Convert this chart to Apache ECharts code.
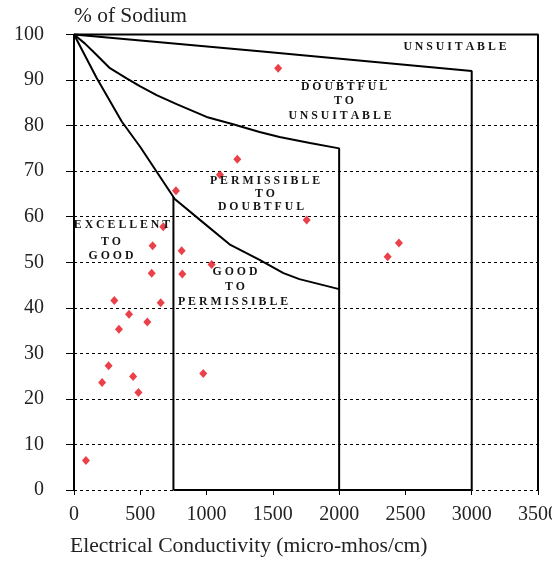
<!DOCTYPE html>
<html><head><meta charset="utf-8">
<script src="https://cdn.jsdelivr.net/npm/echarts@6/dist/echarts.min.js"></script>
<style>html,body{margin:0;padding:0;background:#fff;overflow:hidden}#c{width:552px;height:563px}</style>
</head><body><div id="c"></div>
<script>
// Sample points: [EC (micro-mhos/cm), % Na]
const samples = [[90,6.5],[212,23.6],[261,27.3],[304,41.6],[339,35.3],[415,38.6],[446,24.9],[486,21.4],
  [553,36.9],[586,47.6],[593,53.6],[654,41.1],[673,57.8],[769,65.7],[812,52.5],[817,47.4],
  [975,25.6],[1038,49.5],[1101,69.2],[1232,72.6],[1540,92.6],[1755,59.3],[2366,51.2],[2451,54.2]];
// Class boundaries
const boxLine = [[0,0],[0,100],[3500,100],[3500,0]];
const unsuitableLine = [[0,100],[1400,96.3],[3000,92],[3000,0]];
const doubtfulLine = [[0,100],[83,98],[146,96.2],[271,92.6],[400,90.3],[500,88.6],[623,86.7],[774,84.7],
  [1000,81.9],[1200,80.3],[1400,78.6],[1550,77.5],[1780,76.2],[2000,75],[2000,0]];
const permissibleLine = [[0,100],[170,90.5],[360,80.9],[500,75.3],[760,63.9],[950,59.3],
  [1180,53.8],[1400,50.5],[1580,47.6],[1700,46.3],[2000,44.1]];
const excellentLine = [[750,0],[750,64.3]];
const bottomLine = [[750,0],[3000,0]];
const xTicks = {min:0, max:3500, interval:500};
const yTicks = {min:0, max:100, interval:10};

const chart = echarts.init(document.getElementById('c'));
const serif = '"Liberation Serif","Times New Roman",serif';
function boundary(d){
  return {type:'line', data:d, symbol:'none', clip:false, silent:true,
    lineStyle:{color:'#000', width:2}, z:3};
}
function sp(s){ return s.split('').join(' '); }
function zoneText(x,y,t){
  return {type:'text', x:x, y:y, style:{text:sp(t), font:'bold 11.8px '+serif, fill:'#151515',
    textAlign:'center', textVerticalAlign:'middle'}, z:10};
}
chart.setOption({
  animation:false,
  grid:{left:74, right:14, top:34.5, bottom:73, containLabel:false, outerBoundsMode:'none'},
  xAxis:{type:'value', min:xTicks.min, max:xTicks.max, interval:xTicks.interval,
    axisLine:{show:false}, axisTick:{show:true, length:5, lineStyle:{color:'#000'}},
    axisLabel:{color:'#222', fontFamily:serif, fontSize:20, margin:15, formatter:v=>String(v)},
    splitLine:{show:false}},
  yAxis:{type:'value', min:yTicks.min, max:yTicks.max, interval:yTicks.interval,
    axisLine:{show:false}, axisTick:{show:true, length:8, lineStyle:{color:'#000'}},
    axisLabel:{color:'#222', fontFamily:serif, fontSize:20, margin:30, formatter:v=>String(v)},
    splitLine:{show:true, lineStyle:{color:'#000', type:[3,3], width:1}}},
  graphic:[
    {type:'text', x:74, y:7, scaleX:1.07, style:{text:'% of Sodium', font:'20px '+serif, fill:'#222'}},
    {type:'text', x:70, y:537, scaleX:1.08, style:{text:'Electrical Conductivity (micro-mhos/cm)', font:'20px '+serif, fill:'#222'}},
    zoneText(455,47,'UNSUITABLE'),
    zoneText(344,87,'DOUBTFUL'), zoneText(344,101,'TO'), zoneText(340,116,'UNSUITABLE'),
    zoneText(265,181,'PERMISSIBLE'), zoneText(265,194,'TO'), zoneText(261,207,'DOUBTFUL'),
    zoneText(122,225,'EXCELLENT'), zoneText(111,242,'TO'), zoneText(111,256,'GOOD'),
    zoneText(235,272,'GOOD'), zoneText(235,287,'TO'), zoneText(233,302,'PERMISSIBLE')
  ],
  series:[
    boundary(boxLine), boundary(unsuitableLine), boundary(doubtfulLine),
    boundary(permissibleLine), boundary(excellentLine), boundary(bottomLine),
    {type:'scatter', data:samples, symbol:'diamond', symbolSize:[8,9], clip:false,
      itemStyle:{color:'#e3101c'}, z:5}
  ]
});
</script></body></html>
